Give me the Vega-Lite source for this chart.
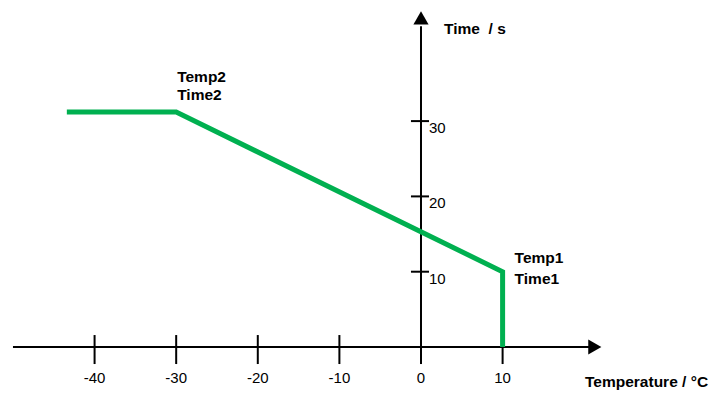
{
  "$schema": "https://vega.github.io/schema/vega-lite/v6.json",
  "width": 712,
  "height": 398,
  "padding": 0,
  "autosize": {"type": "fit", "contains": "padding"},
  "config": {"view": {"stroke": null}, "text": {"font": "Liberation Sans"}},
  "datasets": {
    "curve": [
      {"i": 0, "temp": -43.4, "time": 31.2},
      {"i": 1, "temp": -30, "time": 31.2},
      {"i": 2, "temp": 10, "time": 10},
      {"i": 3, "temp": 10, "time": 0}
    ],
    "xticks": [
      {"value": -40, "label": "-40"},
      {"value": -30, "label": "-30"},
      {"value": -20, "label": "-20"},
      {"value": -10, "label": "-10"},
      {"value": 0, "label": "0"},
      {"value": 10, "label": "10"}
    ],
    "yticks": [
      {"value": 10, "label": "10"},
      {"value": 20, "label": "20"},
      {"value": 30, "label": "30"}
    ],
    "p1": [{"temp": 10, "time": 10, "a": "Temp1", "b": "Time1"}],
    "p2": [{"temp": -30, "time": 31.2, "a": "Temp2", "b": "Time2"}]
  },
  "data": {"values": [{}]},
  "layer": [
    {
      "mark": {"type": "rule", "strokeWidth": 2, "color": "black"},
      "encoding": {
        "x": {"datum": -50, "type": "quantitative", "scale": {"domain": [-51.59, 35.66], "nice": false, "zero": false}, "axis": null},
        "x2": {"datum": 20.6},
        "y": {"datum": 0, "type": "quantitative", "scale": {"domain": [-6.77, 46.08], "nice": false, "zero": false}, "axis": null}
      }
    },
    {
      "mark": {"type": "rule", "strokeWidth": 2, "color": "black"},
      "encoding": {
        "x": {"datum": 0, "type": "quantitative", "scale": {"domain": [-51.59, 35.66], "nice": false, "zero": false}, "axis": null},
        "y": {"datum": 0, "type": "quantitative", "scale": {"domain": [-6.77, 46.08], "nice": false, "zero": false}, "axis": null},
        "y2": {"datum": 42.6}
      }
    },
    {
      "data": {"name": "xticks"},
      "mark": {"type": "rule", "strokeWidth": 2, "color": "black"},
      "encoding": {
        "x": {"field": "value", "type": "quantitative", "scale": {"domain": [-51.59, 35.66], "nice": false, "zero": false}, "axis": null},
        "y": {"datum": 1.59, "type": "quantitative", "scale": {"domain": [-6.77, 46.08], "nice": false, "zero": false}, "axis": null},
        "y2": {"datum": -2.26}
      }
    },
    {
      "data": {"name": "yticks"},
      "mark": {"type": "rule", "strokeWidth": 2, "color": "black"},
      "encoding": {
        "y": {"field": "value", "type": "quantitative", "scale": {"domain": [-6.77, 46.08], "nice": false, "zero": false}, "axis": null},
        "x": {"datum": -1.23, "type": "quantitative", "scale": {"domain": [-51.59, 35.66], "nice": false, "zero": false}, "axis": null},
        "x2": {"datum": 0.98}
      }
    },
    {
      "mark": {"type": "point", "shape": "triangle-right", "filled": true, "color": "black", "opacity": 1, "size": 230},
      "encoding": {
        "x": {"datum": 21.3, "type": "quantitative", "scale": {"domain": [-51.59, 35.66], "nice": false, "zero": false}, "axis": null},
        "y": {"datum": 0, "type": "quantitative", "scale": {"domain": [-6.77, 46.08], "nice": false, "zero": false}, "axis": null}
      }
    },
    {
      "mark": {"type": "point", "shape": "triangle-up", "filled": true, "color": "black", "opacity": 1, "size": 230},
      "encoding": {
        "x": {"datum": 0, "type": "quantitative", "scale": {"domain": [-51.59, 35.66], "nice": false, "zero": false}, "axis": null},
        "y": {"datum": 43.7, "type": "quantitative", "scale": {"domain": [-6.77, 46.08], "nice": false, "zero": false}, "axis": null}
      }
    },
    {
      "data": {"name": "curve"},
      "mark": {"type": "line", "strokeWidth": 5, "color": "#00B050", "strokeJoin": "miter", "strokeCap": "butt"},
      "encoding": {
        "x": {"field": "temp", "type": "quantitative", "scale": {"domain": [-51.59, 35.66], "nice": false, "zero": false}, "axis": null},
        "y": {"field": "time", "type": "quantitative", "scale": {"domain": [-6.77, 46.08], "nice": false, "zero": false}, "axis": null},
        "order": {"field": "i"}
      }
    },
    {
      "data": {"name": "xticks"},
      "mark": {"type": "text", "fontSize": 15, "align": "center", "baseline": "middle", "dy": 31, "color": "black"},
      "encoding": {
        "x": {"field": "value", "type": "quantitative", "scale": {"domain": [-51.59, 35.66], "nice": false, "zero": false}, "axis": null},
        "y": {"datum": 0, "type": "quantitative", "scale": {"domain": [-6.77, 46.08], "nice": false, "zero": false}, "axis": null},
        "text": {"field": "label"}
      }
    },
    {
      "data": {"name": "yticks"},
      "mark": {"type": "text", "fontSize": 15, "align": "left", "baseline": "middle", "dy": 7, "dx": 0, "color": "black"},
      "encoding": {
        "y": {"field": "value", "type": "quantitative", "scale": {"domain": [-6.77, 46.08], "nice": false, "zero": false}, "axis": null},
        "x": {"datum": 0.98, "type": "quantitative", "scale": {"domain": [-51.59, 35.66], "nice": false, "zero": false}, "axis": null},
        "text": {"field": "label"}
      }
    },
    {
      "data": {"name": "p1"},
      "mark": {"type": "text", "fontSize": 15.5, "fontWeight": "bold", "align": "left", "baseline": "middle", "dx": 12, "dy": -14, "color": "black"},
      "encoding": {
        "x": {"field": "temp", "type": "quantitative", "scale": {"domain": [-51.59, 35.66], "nice": false, "zero": false}, "axis": null},
        "y": {"field": "time", "type": "quantitative", "scale": {"domain": [-6.77, 46.08], "nice": false, "zero": false}, "axis": null},
        "text": {"field": "a"}
      }
    },
    {
      "data": {"name": "p1"},
      "mark": {"type": "text", "fontSize": 15.5, "fontWeight": "bold", "align": "left", "baseline": "middle", "dx": 12, "dy": 7, "color": "black"},
      "encoding": {
        "x": {"field": "temp", "type": "quantitative", "scale": {"domain": [-51.59, 35.66], "nice": false, "zero": false}, "axis": null},
        "y": {"field": "time", "type": "quantitative", "scale": {"domain": [-6.77, 46.08], "nice": false, "zero": false}, "axis": null},
        "text": {"field": "b"}
      }
    },
    {
      "data": {"name": "p2"},
      "mark": {"type": "text", "fontSize": 15.5, "fontWeight": "bold", "align": "left", "baseline": "middle", "dx": 1, "dy": -35, "color": "black"},
      "encoding": {
        "x": {"field": "temp", "type": "quantitative", "scale": {"domain": [-51.59, 35.66], "nice": false, "zero": false}, "axis": null},
        "y": {"field": "time", "type": "quantitative", "scale": {"domain": [-6.77, 46.08], "nice": false, "zero": false}, "axis": null},
        "text": {"field": "a"}
      }
    },
    {
      "data": {"name": "p2"},
      "mark": {"type": "text", "fontSize": 15.5, "fontWeight": "bold", "align": "left", "baseline": "middle", "dx": 1, "dy": -17, "color": "black"},
      "encoding": {
        "x": {"field": "temp", "type": "quantitative", "scale": {"domain": [-51.59, 35.66], "nice": false, "zero": false}, "axis": null},
        "y": {"field": "time", "type": "quantitative", "scale": {"domain": [-6.77, 46.08], "nice": false, "zero": false}, "axis": null},
        "text": {"field": "b"}
      }
    },
    {
      "mark": {"type": "text", "fontSize": 15.5, "fontWeight": "bold", "align": "left", "baseline": "middle", "color": "black", "text": "Time\u00a0 / s"},
      "encoding": {
        "x": {"datum": 2.82, "type": "quantitative", "scale": {"domain": [-51.59, 35.66], "nice": false, "zero": false}, "axis": null},
        "y": {"datum": 42.2, "type": "quantitative", "scale": {"domain": [-6.77, 46.08], "nice": false, "zero": false}, "axis": null}
      }
    },
    {
      "mark": {"type": "text", "fontSize": 15.5, "fontWeight": "bold", "align": "left", "baseline": "middle", "color": "black", "text": "Temperature / °C"},
      "encoding": {
        "x": {"datum": 20.1, "type": "quantitative", "scale": {"domain": [-51.59, 35.66], "nice": false, "zero": false}, "axis": null},
        "y": {"datum": -4.65, "type": "quantitative", "scale": {"domain": [-6.77, 46.08], "nice": false, "zero": false}, "axis": null}
      }
    }
  ]
}
